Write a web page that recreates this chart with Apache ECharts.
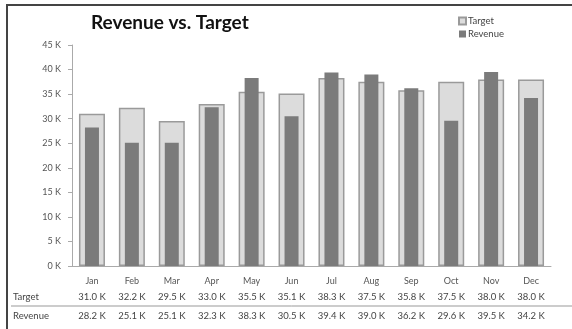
<!DOCTYPE html>
<html>
<head>
<meta charset="utf-8">
<script src="https://cdn.jsdelivr.net/npm/echarts@6/dist/echarts.min.js"></script>
<style>
  html, body { margin: 0; padding: 0; background: #fff; }
  #chart { width: 572px; height: 329px; }
</style>
</head>
<body>
<div id="chart"></div>
<script>
// Monthly figures, in thousands
var months = ['Jan', 'Feb', 'Mar', 'Apr', 'May', 'Jun', 'Jul', 'Aug', 'Sep', 'Oct', 'Nov', 'Dec'];
var target = [31.0, 32.2, 29.5, 33.0, 35.5, 35.1, 38.3, 37.5, 35.8, 37.5, 38.0, 38.0];
var revenue = [28.2, 25.1, 25.1, 32.3, 38.3, 30.5, 39.4, 39.0, 36.2, 29.6, 39.5, 34.2];
var yTicks = [0, 5, 10, 15, 20, 25, 30, 35, 40, 45];

var FONT = 'Lato, "Open Sans", sans-serif';
var fmtK = function (v) { return v.toFixed(1) + ' K'; };

var chart = echarts.init(document.getElementById('chart'), null, { renderer: 'canvas' });

// table axes: one row of values per series under the month labels
function tableAxis(values, offset) {
  return {
    type: 'category',
    data: values.map(fmtK),
    position: 'bottom',
    offset: offset,
    axisLine: { show: false },
    axisTick: { show: false },
    axisLabel: { color: '#444', fontSize: 9.5, fontFamily: FONT, interval: 0, margin: 0 }
  };
}

chart.setOption({
  animation: false,
  backgroundColor: '#fff',
  title: {
    text: 'Revenue vs. Target',
    left: 86,
    top: 8,
    textStyle: { fontFamily: FONT, fontWeight: 'bold', fontSize: 19, color: '#111' }
  },
  legend: {
    orient: 'vertical',
    left: 453,
    top: 11,
    itemWidth: 7,
    itemHeight: 7,
    itemGap: 3,
    textStyle: { fontFamily: FONT, fontSize: 9.5, color: '#444', padding: [0, 0, 0, -3] },
    data: [
      { name: 'Target', icon: 'rect' },
      { name: 'Revenue', icon: 'rect' }
    ]
  },
  grid: { left: 72, right: 21, top: 45, bottom: 63 },
  xAxis: [
    {
      type: 'category',
      data: months,
      axisLine: { lineStyle: { color: '#aaa', width: 1 } },
      axisTick: { show: false },
      axisLabel: { color: '#555', fontSize: 9, fontFamily: FONT, margin: 11, interval: 0 }
    },
    tableAxis(target, 26),
    tableAxis(revenue, 45),
    // overlay axis so the narrower revenue bars sit centred inside the target bars
    {
      type: 'category',
      data: months,
      show: false
    }
  ],
  yAxis: {
    type: 'value',
    min: yTicks[0],
    max: yTicks[yTicks.length - 1],
    interval: 5,
    splitLine: { show: false },
    axisLine: { show: true, lineStyle: { color: '#aaa' } },
    axisTick: { show: true, length: 4, lineStyle: { color: '#aaa' } },
    axisLabel: {
      color: '#555', fontSize: 9, fontFamily: FONT, margin: 11,
      formatter: function (v) { return v + ' K'; }
    }
  },
  series: [
    {
      name: 'Target',
      type: 'bar',
      xAxisIndex: 0,
      data: target,
      barWidth: 26,
      itemStyle: { color: '#dcdcdc', borderColor: '#9a9a9a', borderWidth: 1.5 }
    },
    {
      name: 'Revenue',
      type: 'bar',
      xAxisIndex: 3,
      data: revenue,
      barWidth: 14,
      z: 3,
      itemStyle: { color: '#7b7b7b' }
    }
  ],
  graphic: [
    // outer frame (left and top edges)
    { type: 'line', shape: { x1: 7, y1: 4, x2: 7, y2: 329 }, style: { stroke: '#444', lineWidth: 2 } },
    { type: 'line', shape: { x1: 6, y1: 5, x2: 572, y2: 5 }, style: { stroke: '#444', lineWidth: 2 } },
    // table row titles and separator
    { type: 'text', left: 13, top: 292, style: { text: 'Target', fontSize: 9.5, fontFamily: FONT, fill: '#444' } },
    { type: 'text', left: 13, top: 311, style: { text: 'Revenue', fontSize: 9.5, fontFamily: FONT, fill: '#444' } },
    { type: 'line', shape: { x1: 11, y1: 306, x2: 572, y2: 306 }, style: { stroke: '#999', lineWidth: 1 } }
  ]
});
</script>
</body>
</html>
